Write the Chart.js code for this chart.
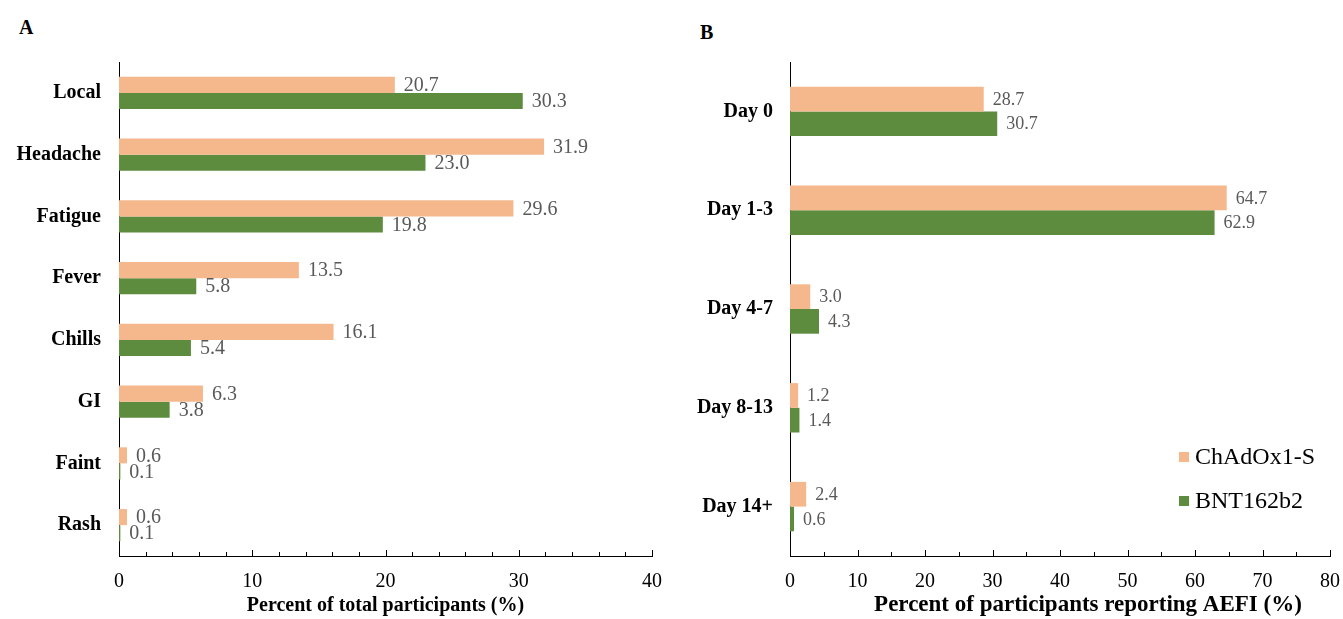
<!DOCTYPE html>
<html>
<head>
<meta charset="utf-8">
<script src="https://cdn.jsdelivr.net/npm/chart.js@4.4.1/dist/chart.umd.min.js"></script>
<style>
  body { margin: 0; background: #fff; width: 1343px; height: 619px; overflow: hidden; position: relative; }
  .panel { position: absolute; top: 0; height: 619px; }
  .tag { position: absolute; font: bold 20px "Liberation Serif", serif; line-height: 20px; color: #000; }
</style>
</head>
<body>
<div class="tag" style="left:19px;top:17px">A</div>
<div class="tag" style="left:700px;top:22px">B</div>
<div class="panel" style="left:0;width:668px"><canvas id="chartA"></canvas></div>
<div class="panel" style="left:670px;width:676px"><canvas id="chartB"></canvas></div>
<script>
// panel A: adverse events by type
const categoriesA = ["Local", "Headache", "Fatigue", "Fever", "Chills", "GI", "Faint", "Rash"];
const chadoxA = [20.7, 31.9, 29.6, 13.5, 16.1, 6.3, 0.6, 0.6];
const bntA = [30.3, 23.0, 19.8, 5.8, 5.4, 3.8, 0.1, 0.1];
const ticksA = [0, 10, 20, 30, 40];

// panel B: onset of AEFI
const categoriesB = ["Day 0", "Day 1-3", "Day 4-7", "Day 8-13", "Day 14+"];
const chadoxB = [28.7, 64.7, 3.0, 1.2, 2.4];
const bntB = [30.7, 62.9, 4.3, 1.4, 0.6];
const ticksB = [0, 10, 20, 30, 40, 50, 60, 70, 80];

const seriesNames = ["ChAdOx1-S", "BNT162b2"];
const colors = ["#F5B88D", "#5E8C3F"];

Chart.defaults.font.family = '"Liberation Serif", serif';
Chart.defaults.color = "#000";

// tick marks pointing up, value labels at bar ends, and a legend inside the plot
const extras = {
  id: "extras",
  afterDatasetsDraw(chart, args, opts) {
    const ctx = chart.ctx;
    const x = chart.scales.x;
    const area = chart.chartArea;
    ctx.save();
    ctx.strokeStyle = "#000";
    ctx.lineWidth = 1;
    for (let v = x.min; v <= x.max; v += opts.minorStep) {
      const px = Math.round(x.getPixelForValue(v)) + 0.5;
      const len = v % opts.majorStep === 0 ? 6 : 4;
      ctx.beginPath();
      ctx.moveTo(px, area.bottom);
      ctx.lineTo(px, area.bottom - len);
      ctx.stroke();
    }

    ctx.font = opts.labelFont;
    ctx.fillStyle = "#595959";
    ctx.textAlign = "left";
    ctx.textBaseline = "middle";
    chart.data.datasets.forEach((ds, i) => {
      chart.getDatasetMeta(i).data.forEach((bar, j) => {
        ctx.fillText(ds.data[j].toFixed(1), bar.x + opts.gap, bar.y + 1);
      });
    });

    if (opts.legend) {
      ctx.font = "24px 'Liberation Serif', serif";
      chart.data.datasets.forEach((ds, i) => {
        const y = area.bottom - opts.legend.ys[i];
        ctx.fillStyle = ds.backgroundColor;
        ctx.fillRect(area.right - 151, y - 5, 10, 10);
        ctx.fillStyle = "#000";
        ctx.fillText(ds.label, area.right - 135, y + 1);
      });
    }

    // axis title placed off-centre, as in the source figure
    if (opts.axisTitle) {
      ctx.font = "bold 23px 'Liberation Serif', serif";
      ctx.fillStyle = "#000";
      ctx.textAlign = "center";
      ctx.fillText(opts.axisTitle.text, (area.left + area.right) / 2 + opts.axisTitle.dx, chart.height - 14);
    }
    ctx.restore();
  }
};

function makeChart(id, labels, a, b, ticks, opts) {
  return new Chart(document.getElementById(id), {
    type: "bar",
    data: {
      labels: labels,
      datasets: [
        { label: seriesNames[0], data: a, backgroundColor: colors[0] },
        { label: seriesNames[1], data: b, backgroundColor: colors[1] }
      ]
    },
    options: {
      indexAxis: "y",
      responsive: true,
      maintainAspectRatio: false,
      animation: false,
      categoryPercentage: opts.barPct,
      barPercentage: 1,
      layout: { padding: { top: 62, right: 0, left: 0, bottom: 0 } },
      plugins: {
        legend: { display: false },
        tooltip: { enabled: false },
        extras: opts.extras
      },
      scales: {
        x: {
          min: ticks[0],
          max: ticks[ticks.length - 1],
          afterBuildTicks: (s) => { s.ticks = ticks.map(v => ({ value: v })); },
          afterFit: (s) => { s.height = 63; },
          grid: { display: false },
          border: { display: true, color: "#000", width: 1 },
          ticks: { font: { size: 20 }, color: "#000", padding: 6, maxRotation: 0 },
          title: {
            display: !!opts.title,
            text: opts.title || "",
            font: { size: 20, weight: "bold" },
            color: "#000",
            padding: { top: 0, bottom: 1 }
          }
        },
        y: {
          afterFit: (s) => { s.width = opts.yWidth; },
          grid: { display: false },
          border: { display: true, color: "#000", width: 1 },
          ticks: { font: { size: 20, weight: "bold" }, color: "#000", padding: opts.yPad }
        }
      }
    },
    plugins: [extras]
  });
}

makeChart("chartA", categoriesA, chadoxA, bntA, ticksA, {
  barPct: 0.52,
  yWidth: 119,
  yPad: 10,
  title: "Percent of total participants (%)",
  extras: { minorStep: 2, majorStep: 10, labelFont: "20px 'Liberation Serif', serif", gap: 9 }
});

makeChart("chartB", categoriesB, chadoxB, bntB, ticksB, {
  barPct: 0.5,
  yWidth: 120,
  yPad: 9,
  title: null,
  extras: {
    minorStep: 5, majorStep: 10, labelFont: "18px 'Liberation Serif', serif", gap: 9,
    legend: { ys: [99, 55] },
    axisTitle: { text: "Percent of participants reporting AEFI (%)", dx: 28 }
  }
});
</script>
</body>
</html>
